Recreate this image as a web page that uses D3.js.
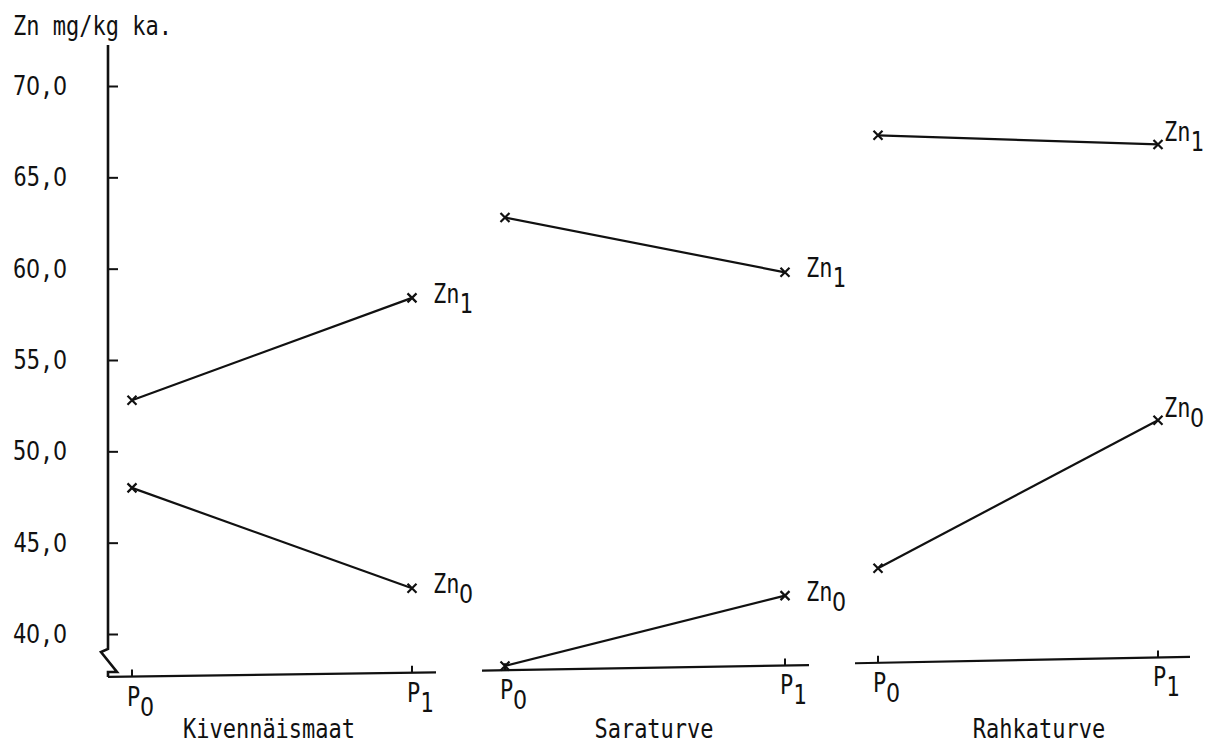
<!DOCTYPE html>
<html>
<head>
<meta charset="utf-8">
<script src="https://cdn.jsdelivr.net/npm/d3@7"></script>
<style>
  /* plain (unslashed) zero, everything else in the monospace face */
  @font-face {
    font-family: "PlainZero";
    src: local("DejaVu Sans"), local("DejaVuSans");
    unicode-range: U+0030;
  }
  html, body { margin: 0; padding: 0; background: #fff; }
  svg { display: block; }
  text { font-family: "PlainZero", "DejaVu Sans Mono", "Liberation Mono", monospace; font-size: 22px; fill: #111; }
</style>
</head>
<body>
<script>
// Soil groups (one panel each) and the two sampling points
const panels = ["Kivennäismaat", "Saraturve", "Rahkaturve"];
const periods = [{ main: "P", sub: "0" }, { main: "P", sub: "1" }];

// Zn mg/kg dry matter, per panel
const zn0P0 = [48.0, 38.25, 43.6];
const zn0P1 = [42.5, 42.1, 51.7];
const zn1P0 = [52.8, 62.8, 67.3];
const zn1P1 = [58.4, 59.8, 66.8];

// Level of each panel's x-axis line (left end, right end)
const floorLeft = [37.65, 38.0, 38.4];
const floorRight = [37.9, 38.3, 38.75];

// Y axis ticks
const yTicks = [40, 45, 50, 55, 60, 65, 70];
const yTitle = "Zn mg/kg ka.";

const series = [
  { name: "Zn", sub: "0", p0: zn0P0, p1: zn0P1 },
  { name: "Zn", sub: "1", p0: zn1P0, p1: zn1P1 }
];

const W = 1206, H = 753;
const svg = d3.select("body").append("svg").attr("width", W).attr("height", H);

const y = d3.scaleLinear().domain([40, 70]).range([634, 86]);
const panelX = d3.scalePoint().domain(panels).range([132, 878]);
const periodX = d3.scaleLinear().domain([0, 1]).range([0, 280]);
const xAt = (i, j) => panelX(panels[i]) + periodX(j);
const axisX = 108;
const fmt = v => d3.format(".1f")(v).replace(".", ",");
const STRETCH = 1.17;

// typewriter-style label: tall narrow glyphs, optional lowered subscript
function label(x, yb, main, sub, anchor) {
  const g = svg.append("g").attr("transform", `translate(${x},${yb}) scale(1,${STRETCH})`);
  const t = g.append("text").attr("text-anchor", anchor || "start");
  t.append("tspan").text(main);
  if (sub) t.append("tspan").attr("dy", 10 / STRETCH).text(sub);
  return g;
}

// Y axis ticks via d3 axis
const yAxis = d3.axisRight(y).tickValues(yTicks).tickSize(10).tickFormat("");
const ya = svg.append("g").attr("transform", `translate(${axisX},0)`).call(yAxis);
ya.select(".domain").remove();
ya.selectAll(".tick line").attr("stroke", "#111").attr("stroke-width", 2);

// Y axis line with break symbol at the bottom
const brk = y(40) + 15;
svg.append("path")
  .attr("d", `M${axisX},45 L${axisX},${brk} L${axisX - 7},${brk + 3} L${axisX + 9},${brk + 23} L${axisX},${brk + 23} L${axisX},${y(floorLeft[0])}`)
  .attr("fill", "none").attr("stroke", "#111").attr("stroke-width", 2.6).attr("stroke-linejoin", "miter");

// Tick labels
yTicks.forEach(v => label(67, y(v) + 9, fmt(v), null, "end"));

// Axis title
label(13, 35, yTitle, null, "start");

// Panel x-axis lines, P ticks and labels
panels.forEach((p, i) => {
  const x0 = i === 0 ? axisX : xAt(i, 0) - 23;
  const x1 = xAt(i, 1) + (i === panels.length - 1 ? 32 : 24);
  const fy = d3.scaleLinear().domain([x0, x1]).range([y(floorLeft[i]), y(floorRight[i])]);
  svg.append("line")
    .attr("x1", x0).attr("y1", fy(x0)).attr("x2", x1).attr("y2", fy(x1))
    .attr("stroke", "#111").attr("stroke-width", 2.2);
  periods.forEach((per, j) => {
    const px = xAt(i, j);
    svg.append("line")
      .attr("x1", px).attr("x2", px).attr("y1", fy(px)).attr("y2", fy(px) - 7)
      .attr("stroke", "#111").attr("stroke-width", 2);
    label(px - 5, fy(px) + 29, per.main, per.sub, "start");
  });
  // panel name, set a little right of the panel's centre
  label((xAt(i, 0) + xAt(i, 1)) / 2 - 3 + 12 * i, 738, p, null, "middle");
});

// Series lines, cross markers and end labels
const cross = s => `M${-s},${-s}L${s},${s}M${-s},${s}L${s},${-s}`;
series.forEach(s => {
  panels.forEach((p, i) => {
    const pts = [[xAt(i, 0), y(s.p0[i])], [xAt(i, 1), y(s.p1[i])]];
    svg.append("path")
      .attr("d", d3.line()(pts))
      .attr("fill", "none").attr("stroke", "#111").attr("stroke-width", 2.2);
    pts.forEach(([cx, cy]) => {
      svg.append("path")
        .attr("transform", `translate(${cx},${cy})`)
        .attr("d", cross(4.5))
        .attr("stroke", "#111").attr("stroke-width", 2.2);
    });
    const last = i === panels.length - 1;
    const [lx, ly] = pts[1];
    label(lx + (last ? 6 : 21), ly + (last ? -3 : 5), s.name, s.sub, "start");
  });
});
</script>
</body>
</html>
